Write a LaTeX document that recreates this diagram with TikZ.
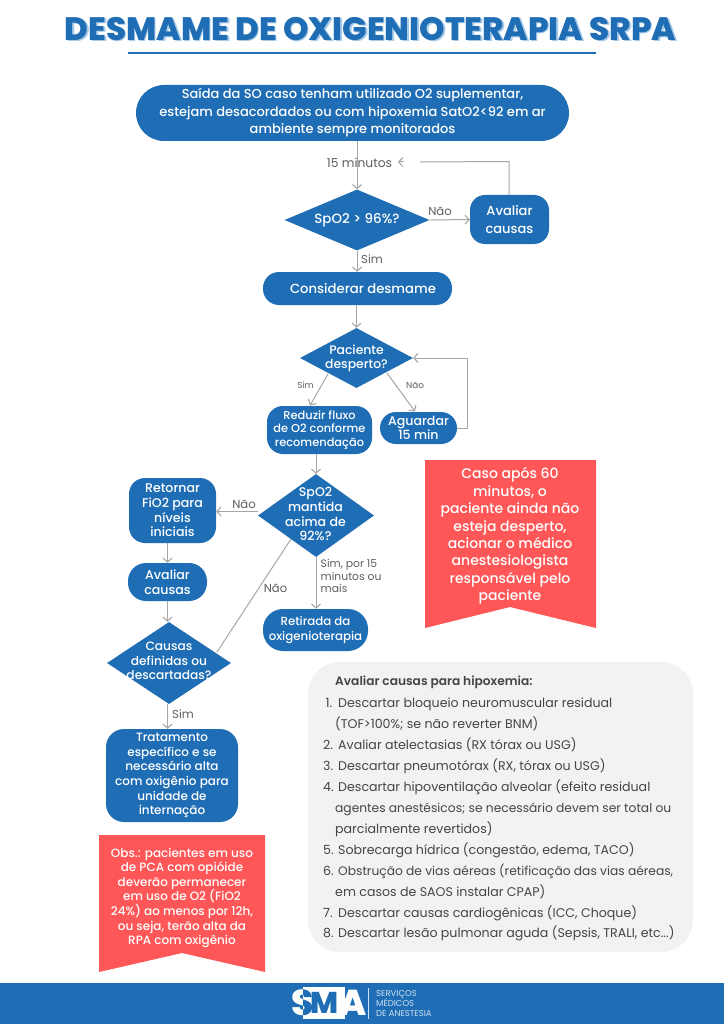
\documentclass[tikz,border=0pt]{standalone}
\usepackage{fontspec}
\setmainfont{Poppins}[UprightFont=* Medium,BoldFont=* ExtraBold]
\newfontfamily\reg{Poppins}[BoldFont=* SemiBold]
\usetikzlibrary{arrows.meta,shapes.geometric}
\definecolor{mblue}{HTML}{1F6EB5}
\definecolor{mshadow}{HTML}{A9CBE8}
\definecolor{mred}{HTML}{FF5757}
\definecolor{mline}{HTML}{A6A6A6}
\definecolor{mlabel}{HTML}{5F5F5F}
\definecolor{mlist}{HTML}{454545}
\definecolor{mgray}{HTML}{F2F2F2}
\definecolor{mfoot}{HTML}{CFE2F3}
\newcommand{\fs}[2]{\fontsize{#1}{#2}\selectfont}
\tikzset{
  x=1pt,y=-1pt,
  bluebox/.style={rectangle,fill=mblue,text=white,inner sep=0pt,align=center},
  dia/.style={diamond,fill=mblue,inner sep=0pt,minimum width=#1},
  diatext/.style={text=white,align=center,inner sep=0pt},
  conn/.style={draw=mline,line width=1pt,-{Straight Barb[length=4pt,width=9pt,line width=1.1pt]}},
  plain/.style={draw=mline,line width=1pt},
  lab/.style={text=mlabel,inner sep=0pt},
  redtext/.style={text=white,align=center,inner sep=0pt},
  li/.style={text=mlist,anchor=base west,inner sep=0pt,font=\reg\fs{12.6}{14}},
  litight/.style={li,font=\reg\fs{12.25}{14}},
}
\begin{document}
\begin{tikzpicture}
\useasboundingbox (0,0) rectangle (724,1024);
\fill[white] (0,0) rectangle (724,1024);

% title
\node[text=mshadow,font=\fs{32.4}{34}\bfseries,inner sep=0pt] (titleshadow) at (372,30.5) {DESMAME DE OXIGENIOTERAPIA SRPA};
\node[text=mblue,font=\fs{32.4}{34}\bfseries,inner sep=0pt] (title) at (370.5,29) {DESMAME DE OXIGENIOTERAPIA SRPA};
\draw[mblue,line width=2pt] (128,53) -- (596,53);

% flow nodes
\node[bluebox,minimum width=433pt,minimum height=56pt,rounded corners=28pt,font=\fs{13}{17.5}] (start) at (352.5,113)
  {Saída da SO caso tenham utilizado O2 suplementar,\\estejam desacordados ou com hipoxemia SatO2<92 em ar\\ambiente sempre monitorados};

\node[dia=145pt,minimum height=61pt,shape aspect=2.38] (d1) at (357,220) {};
\node[bluebox,minimum width=79pt,minimum height=49pt,rounded corners=15pt,font=\fs{13}{18.5}] (causas1) at (509.5,219.5) {Avaliar\\causas};
\node[bluebox,minimum width=189pt,minimum height=33pt,rounded corners=16pt,font=\fs{13.2}{16}] (cons) at (357.5,288.5) {\hspace*{11pt}Considerar desmame};
\node[dia=113pt,minimum height=60pt,shape aspect=1.88] (d2) at (356.5,358) {};
\node[bluebox,minimum width=105pt,minimum height=48pt,rounded corners=16pt,font=\fs{11.4}{13.7}] (reduzir) at (319.5,430) {Reduzir fluxo\\de O2 conforme\\recomendação};
\node[bluebox,minimum width=77pt,minimum height=32pt,rounded corners=16pt,font=\fs{12.6}{14}] (aguardar) at (418.5,428) {Aguardar\\15 min};
\node[dia=116pt,minimum height=83pt,shape aspect=1.4] (d3) at (316,515.5) {};
\node[bluebox,minimum width=87pt,minimum height=65pt,rounded corners=16pt,font=\fs{12.6}{14.7}] (retornar) at (172.5,510.5) {Retornar\\FiO2 para\\níveis\\iniciais};
\node[bluebox,minimum width=79pt,minimum height=38pt,rounded corners=18pt,font=\fs{12.6}{14.5}] (causas2) at (167.5,582) {Avaliar\\causas};
\node[dia=124pt,minimum height=82pt,shape aspect=1.51] (d4) at (169,663) {};
\node[bluebox,minimum width=105pt,minimum height=42pt,rounded corners=20pt,font=\fs{11.8}{14.5}] (retirada) at (315.5,630) {Retirada da\\oxigenioterapia};
\node[bluebox,minimum width=132pt,minimum height=93pt,rounded corners=18pt,font=\fs{12}{14.6}] (trat) at (172,775.5) {Tratamento\\específico e se\\necessário alta\\com oxigênio para\\unidade de\\internação};

% diamond texts
\node[diatext,font=\fs{13.4}{15}] (d1t) at (d1.center) {SpO2 > 96\%?};
\node[diatext,font=\fs{12.4}{14}] (d2t) at (d2.center) {Paciente\\desperto?};
\node[diatext,font=\fs{12.6}{14.8}] (d3t) at (315.5,514) {SpO2\\mantida\\acima de\\92\%?};
\node[diatext,font=\fs{12.2}{14.3}] (d4t) at (169,661) {Causas\\definidas ou\\descartadas?};

% connectors
\coordinate (loopA) at (509,161.5);
\coordinate (loopB) at (420,162);
\coordinate (tipA) at (404,162);
\coordinate (tipB) at (398,162);
\draw[conn] (start.south -| d1.north) -- (d1.north);
\draw[plain] (causas1.north -| loopA) -- (loopA) -- (loopB);
\draw[conn] (tipA) -- (tipB);
\draw[conn] (d1.east) -- (causas1.west);
\draw[conn] (d1.south) -- (cons.north -| d1.south);
\draw[conn] (cons.south -| d2.north) -- (d2.north);
\coordinate (d2a) at (328,374);
\coordinate (d2b) at (387,373);
\coordinate (redin) at (310,405.5);
\coordinate (agin) at (415,411.5);
\draw[conn] (d2a) -- (redin);
\draw[conn] (d2b) -- (agin);
\draw[conn] (aguardar.east) -- ++(10,0) coordinate (agc) -- (agc |- d2.east) -- (d2.east);
\draw[conn] (reduzir.south -| d3.north) -- (d3.north);
\draw[conn] (d3.west) ++(0,-4) coordinate (d3w) -- (retornar.east |- d3w);
\draw[conn] (retornar.south -| causas2.north) -- (causas2.north);
\draw[conn] (causas2.south) -- (d4.north -| causas2.south);
\coordinate (d4a) at (217,652);
\coordinate (d3a) at (291,539);
\draw[plain] (d4a) -- (d3a);
\draw[conn] (d3.south) -- (retirada.north -| d3.south);
\draw[conn] (d4.south -| causas2.south) -- (trat.north -| causas2.south);

% connector labels
\node[lab,font=\reg\fs{12.3}{13}] (l15) at (359.5,162.5) {15 minutos};
\node[lab,font=\reg\fs{11.6}{12}] (ln1) at (440,211) {Não};
\node[lab,font=\reg\fs{11.6}{12}] (ls1) at (372,259.5) {Sim};
\node[lab,font=\reg\fs{8.8}{9}] (ls2) at (305.5,385) {Sim};
\node[lab,font=\reg\fs{8.8}{9}] (ln2) at (415,385) {Não};
\node[lab,font=\reg\fs{11.6}{12}] (ln3) at (244,504) {Não};
\node[lab,font=\reg\fs{11.6}{12}] (ln4) at (275.5,588) {Não};
\node[lab,font=\reg\fs{10.8}{12.6},align=left,anchor=west] (ls3) at (320.5,576) {Sim, por 15\\minutos ou\\mais};
\node[lab,font=\reg\fs{11.6}{12}] (ls4) at (183,714) {Sim};

% red banners
\fill[mred] (425,460) -- (596,460) -- (596,628) -- (510,607) -- (425,628) -- cycle;
\node[redtext,font=\fs{14}{17.4}] (caso) at (510,536) {Caso após 60\\minutos, o\\paciente ainda não\\esteja desperto,\\acionar o médico\\anestesiologista\\responsável pelo\\paciente};
\fill[mred] (99,835) -- (265,835) -- (265,972) -- (182,953) -- (99,972) -- cycle;
\node[redtext,font=\fs{12}{14.65}] (obs) at (182,898) {Obs.: pacientes em uso\\de PCA com opióide\\deverão permanecer\\em uso de O2 (FiO2\\24\%) ao menos por 12h,\\ou seja, terão alta da\\RPA com oxigênio};

% grey panel
\fill[mgray,rounded corners=32pt] (308,662) rectangle (693,952);
\node[li,font=\reg\fs{12.2}{14}\bfseries] (h) at (335,685) {Avaliar causas para hipoxemia:};
\node[li] (a1n) at (325.5,707.5) {1.};
\node[li] (a1) at (338,707.5) {Descartar bloqueio neuromuscular residual};
\node[li] (a1b) at (335,728.5) {(TOF>100\%; se não reverter BNM)};
\node[li] (a2n) at (323,749.5) {2.};
\node[li] (a2) at (338,749.5) {Avaliar atelectasias (RX tórax ou USG)};
\node[li] (a3n) at (323,770.5) {3.};
\node[li] (a3) at (338,770.5) {Descartar pneumotórax (RX, tórax ou USG)};
\node[li] (a4n) at (323,791.5) {4.};
\node[li] (a4) at (338,791.5) {Descartar hipoventilação alveolar (efeito residual};
\node[litight] (a4b) at (335,812.5) {agentes anestésicos; se necessário devem ser total ou};
\node[li] (a4c) at (335,833.5) {parcialmente revertidos)};
\node[li] (a5n) at (323,854.5) {5.};
\node[li] (a5) at (338,854.5) {Sobrecarga hídrica (congestão, edema, TACO)};
\node[li] (a6n) at (323,875.5) {6.};
\node[litight] (a6) at (338,875.5) {Obstrução de vias aéreas (retificação das vias aéreas,};
\node[li] (a6b) at (335,896.5) {em casos de SAOS instalar CPAP)};
\node[li] (a7n) at (323,917.5) {7.};
\node[li] (a7) at (338,917.5) {Descartar causas cardiogênicas (ICC, Choque)};
\node[li] (a8n) at (323,937.5) {8.};
\node[li] (a8) at (338,937.5) {Descartar lesão pulmonar aguda (Sepsis, TRALI, etc...)};

% footer
\fill[mblue] (0,983) rectangle (724,1024);
\fill[white] (303,987) rectangle (345,1019);
\node[text=white,font=\fs{36}{38}\bfseries,inner sep=0pt] (logoS) at (303,1003) {S};
\begin{scope}
\clip (303,987) rectangle (345,1019);
\node[text=mblue,font=\fs{36}{38}\bfseries,inner sep=0pt] (logoSb) at (303,1003) {S};
\end{scope}
\node[text=mblue,font=\fs{30}{33}\bfseries,inner sep=0pt] (logoM) at (325,1003) {M};
\node[text=white,font=\fs{36}{38}\bfseries,inner sep=0pt] (logoA) at (353,1003) {A};
\draw[mfoot,line width=.7pt] (368,988) -- (368,1019);
\node[text=mfoot,font=\reg\fs{8.5}{10.4},align=left,anchor=west,inner sep=0pt] (logot) at (376,1003.5) {SERVIÇOS\\MÉDICOS\\DE ANESTESIA};
\end{tikzpicture}
\end{document}
